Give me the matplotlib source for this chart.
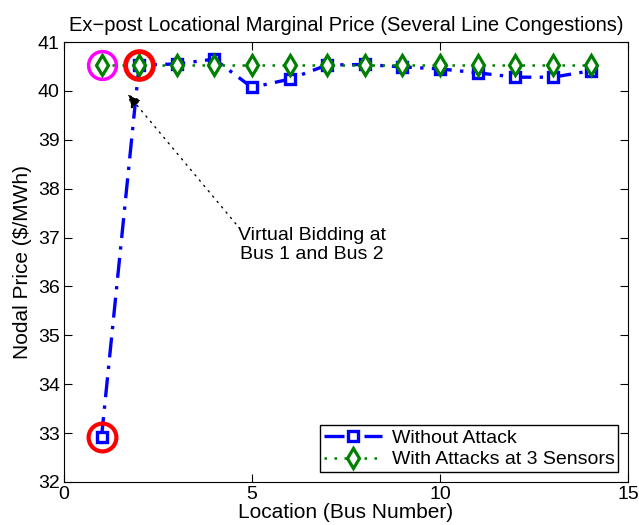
import matplotlib
matplotlib.use('Agg')
import matplotlib.pyplot as plt
import numpy as np

plt.rcParams['font.family'] = ['Liberation Sans', 'DejaVu Sans']

# ===== DATA =====
buses = np.arange(1, 15)
price_no_attack = [32.92, 40.53, 40.55, 40.65, 40.07, 40.24, 40.53, 40.54,
                   40.49, 40.45, 40.37, 40.28, 40.28, 40.41]
price_attack = [40.53] * 14

# highlighted points (bus, price, colour)
circle_bus = [1, 2, 1]
circle_price = [40.53, 40.53, 32.92]
circle_color = ['magenta', 'red', 'red']
circle_lw = [2.5, 3.5, 3]

fig = plt.figure(figsize=(6.39, 5.25), dpi=100)
ax = fig.add_axes([0.100, 0.082, 0.883, 0.838])

ax.plot(buses, price_no_attack, color='blue', linestyle=(0, (6, 2.5, 1, 2.5)), linewidth=2.4,
        marker='s', markersize=7, markerfacecolor='white', markeredgecolor='blue',
        markeredgewidth=2.4, label='Without Attack', zorder=3)
ax.plot(buses, price_attack, color='green', linestyle=(0, (1, 3)), linewidth=1.8,
        marker='d', markersize=10, markerfacecolor='white', markeredgecolor='green',
        markeredgewidth=2.3, label='With Attacks at 3 Sensors', zorder=4)

for b, p, c, w in zip(circle_bus, circle_price, circle_color, circle_lw):
    ax.plot(b, p, marker='o', markersize=20, markerfacecolor='none',
            markeredgecolor=c, markeredgewidth=w, linestyle='none', zorder=5)

ax.annotate('Virtual Bidding at\nBus 1 and Bus 2', xy=(1.70, 39.93), xytext=(6.6, 36.85),
            ha='center', va='center', fontsize=14,
            arrowprops=dict(arrowstyle='-|>', linestyle=(0, (1, 4)), color='black', lw=1,
                            mutation_scale=20, shrinkA=0, shrinkB=0,
                            relpos=(0.0, 1.0)))

ax.set_xlim(0, 15)
ax.set_ylim(32, 41)
ax.set_xticks([0, 5, 10, 15])
ax.set_yticks(range(32, 42))
ax.tick_params(direction='in', top=True, right=True, labelsize=14, length=6, pad=3)
ax.set_xlabel('Location (Bus Number)', fontsize=15, labelpad=0)
ax.set_ylabel('Nodal Price ($/MWh)', fontsize=15, labelpad=4)
ax.set_title('Ex\u2212post Locational Marginal Price (Several Line Congestions)',
             fontsize=14.5, pad=8)

leg = ax.legend(loc='lower right', fontsize=14, fancybox=False, framealpha=1,
                edgecolor='black', borderaxespad=0.5, handlelength=3.0,
                borderpad=0.2, labelspacing=0.2, handletextpad=0.5)
leg.get_frame().set_linewidth(1)

fig.savefig('out.png', dpi=100)
